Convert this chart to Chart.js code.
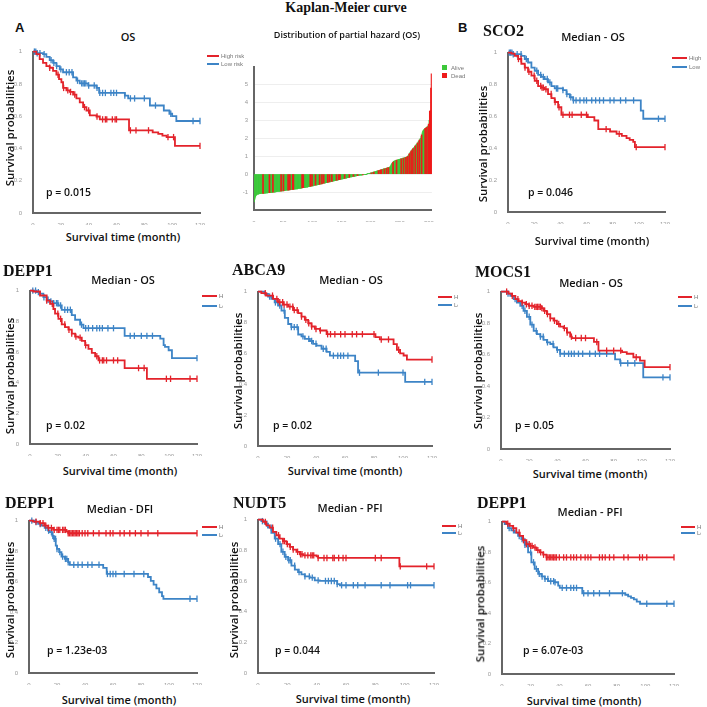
<!DOCTYPE html>
<html>
<head>
<meta charset="utf-8">
<script src="https://cdn.jsdelivr.net/npm/chart.js@4.4.0/dist/chart.umd.min.js"></script>
<style>
body{margin:0;background:#fff;}
#fig{position:relative;width:707px;height:707px;overflow:hidden;font-family:"Open Sans",sans-serif;color:#111;}
canvas{position:absolute;}
.t{position:absolute;white-space:nowrap;line-height:1;}
.gene{font-family:"Liberation Serif",serif;font-weight:bold;font-size:16px;}
.ttl{font-weight:600;font-size:11px;}
.ylab{font-weight:600;font-size:11.5px;}
.xlab{font-weight:600;font-size:11px;}
.pv{font-weight:600;font-size:10.5px;}
.lg{font-family:"Liberation Sans",sans-serif;font-size:6px;color:#777;overflow:hidden;}
</style>
</head>
<body>
<div id="fig"></div>
<script>
var RED = "#e3232b";
var BLUE = "#3d84c6";
var GREEN = "#3cc83a";
var DEADRED = "#ee1a1a";

// ---- distribution of partial hazard (OS), sorted, 305 patients ----
var hazard = [
-1.55,-1.40,-1.28,-1.20,-1.16,-1.13,-1.12,-1.11,-1.10,-1.09,
-1.09,-1.09,-1.08,-1.08,-1.08,-1.07,-1.07,-1.07,-1.06,-1.06,
-1.06,-1.05,-1.05,-1.05,-1.04,-1.04,-1.04,-1.03,-1.03,-1.03,
-1.02,-1.02,-1.01,-1.01,-1.00,-1.00,-0.99,-0.99,-0.98,-0.98,
-0.97,-0.97,-0.96,-0.96,-0.95,-0.95,-0.95,-0.94,-0.94,-0.93,
-0.93,-0.92,-0.92,-0.91,-0.91,-0.90,-0.90,-0.89,-0.89,-0.89,
-0.88,-0.88,-0.87,-0.87,-0.86,-0.86,-0.85,-0.85,-0.84,-0.84,
-0.84,-0.83,-0.83,-0.82,-0.82,-0.81,-0.80,-0.80,-0.79,-0.79,
-0.78,-0.78,-0.77,-0.76,-0.76,-0.75,-0.75,-0.74,-0.74,-0.73,
-0.72,-0.72,-0.71,-0.70,-0.70,-0.69,-0.68,-0.68,-0.67,-0.66,
-0.66,-0.65,-0.64,-0.63,-0.63,-0.62,-0.61,-0.60,-0.60,-0.59,
-0.58,-0.57,-0.57,-0.56,-0.55,-0.54,-0.54,-0.53,-0.52,-0.51,
-0.51,-0.50,-0.49,-0.48,-0.48,-0.47,-0.46,-0.45,-0.45,-0.44,
-0.43,-0.42,-0.41,-0.41,-0.40,-0.39,-0.38,-0.38,-0.37,-0.36,
-0.35,-0.35,-0.34,-0.33,-0.32,-0.31,-0.31,-0.30,-0.29,-0.28,
-0.28,-0.27,-0.26,-0.25,-0.25,-0.24,-0.23,-0.22,-0.22,-0.21,
-0.20,-0.19,-0.19,-0.18,-0.17,-0.16,-0.16,-0.15,-0.14,-0.14,
-0.13,-0.12,-0.12,-0.11,-0.10,-0.10,-0.09,-0.09,-0.08,-0.07,
-0.07,-0.06,-0.06,-0.05,-0.05,-0.04,-0.04,-0.03,-0.03,-0.02,
-0.02,-0.01,-0.01,0.00,0.01,0.02,0.03,0.04,0.05,0.06,
0.07,0.08,0.09,0.10,0.11,0.12,0.13,0.14,0.15,0.16,
0.17,0.18,0.19,0.20,0.21,0.22,0.23,0.24,0.25,0.26,
0.27,0.28,0.29,0.30,0.31,0.32,0.33,0.34,0.35,0.36,
0.37,0.38,0.40,0.42,0.48,0.55,0.60,0.64,0.68,0.71,
0.73,0.75,0.76,0.77,0.78,0.79,0.80,0.81,0.82,0.83,
0.84,0.85,0.86,0.87,0.88,0.89,0.90,0.91,0.92,0.93,
0.94,0.95,0.97,1.00,1.05,1.10,1.15,1.20,1.25,1.30,
1.34,1.38,1.42,1.46,1.50,1.54,1.58,1.62,1.66,1.70,
1.75,1.80,1.85,1.90,1.95,2.00,2.10,2.20,2.30,2.40,
2.45,2.50,2.52,2.55,2.58,2.60,2.62,2.65,2.70,2.80,
3.00,3.50,3.55,4.80,5.60
];
// positions (rank) of patients who died
var deadRank = [15,26,32,46,50,58,61,66,67,82,84,96,99,105,112,116,119,126,129,133,141,145,147,155,163,170,177,186,201,205,213,216,218,223,227,230,238,244,252,256,260,263,266,269,272,276,280,283,287,293,296,299,301,302,303,304];
var hazardTicksX = [0, 50, 100, 150, 200, 250, 300];

// ---- Kaplan-Meier curves: event times (month), survival after each event, censor times ----
// A: OS by risk score
var osHighT = [2.4,4.8,7.2,9.6,12,14.4,16.8,18.7,20.4,21.6,24,26.4,28.8,31.2,33.6,36,38.4,40.8,45.6,48,69,86,90,93,96,102];
var osHighS = [0.984,0.953,0.93,0.91,0.90,0.88,0.857,0.83,0.81,0.775,0.76,0.75,0.734,0.71,0.686,0.656,0.635,0.605,0.598,0.58,0.512,0.50,0.49,0.48,0.47,0.416];
var osHighC = [12,18,22,25,27,30,37,40,46,50,52,53,57,59,60,70,74,83,97,101,120];
var osLowT = [3,7.2,9.6,12,14.4,16.8,19.2,21.6,28.8,31.2,33.6,39.6,45.6,47.5,66,68.4,84,94,98,100,103];
var osLowS = [0.99,0.984,0.967,0.947,0.93,0.91,0.89,0.872,0.84,0.82,0.803,0.79,0.775,0.744,0.727,0.71,0.666,0.635,0.615,0.60,0.57];
var osLowC = [1,2,3,5,8,13,15,17,20,24,26,28,32,35,36,37,38,40,44,46,48,50,52,56,58,60,66,70,73,80,88,99,115,120];
// B: SCO2 OS
var sco2HighT = [2.6,5.1,7.7,10.2,12.8,15.3,17.9,20.4,23,25.5,28,30.6,33.2,35.7,38.3,40.8,61,66,69,78,83,87,90.6,93,95.7,97];
var sco2HighS = [0.994,0.98,0.96,0.93,0.906,0.88,0.855,0.823,0.79,0.78,0.77,0.74,0.715,0.69,0.657,0.61,0.595,0.574,0.52,0.505,0.49,0.477,0.464,0.452,0.44,0.407];
var sco2HighC = [8,10,13,16,20,22,25,26,27,29,33,36,39,42,47,49,56,60,75,85,98,120];
var sco2LowT = [4,10.2,12.8,15.3,17.9,20.4,23,25.5,28,30.6,33.2,35.7,42,44.7,47.2,49.8,101.5,103.4];
var sco2LowS = [0.99,0.98,0.96,0.938,0.906,0.886,0.86,0.848,0.834,0.813,0.79,0.775,0.765,0.74,0.72,0.70,0.636,0.585];
var sco2LowC = [1,2,3,4,7,10,14,22,25,27,30,32,37,38,42,45,48,50,52,55,58,60,64,67,70,73,78,81,86,90,96,115,120];
// DEPP1 OS
var depOsHighT = [2.4,7.2,12,14.4,16.8,18,20.4,22.8,25.2,27.6,30,32.4,34.8,37.2,39.6,42,44.4,46.8,49.2,68,84];
var depOsHighS = [0.994,0.968,0.935,0.914,0.88,0.85,0.816,0.78,0.762,0.745,0.72,0.70,0.693,0.672,0.644,0.62,0.594,0.572,0.545,0.495,0.425];
var depOsHighC = [12,16,20,22,25,28,30,33,36,40,48,50,52,53,55,60,63,78,82,98,101,115,120];
var depOsLowT = [4.8,7.2,9.6,12,14.4,16.8,20.4,22.8,30,32.4,36,38.4,68,93.6,96,97,99.6,102];
var depOsLowS = [0.99,0.98,0.957,0.94,0.93,0.918,0.903,0.875,0.84,0.81,0.778,0.755,0.705,0.687,0.644,0.633,0.611,0.56];
var depOsLowC = [2,4,6,10,13,15,17,19,20,22,25,27,29,37,40,42,45,48,50,52,56,60,72,75,80,84,88,120];
// ABCA9 OS
var abcHighT = [2.3,5.8,10.4,13.8,17.3,20.8,24.2,27.7,30,32.3,34.6,36.9,39.2,42.7,47.3,81,84,93.5,95.8,98,100.4,102.7];
var abcHighS = [0.99,0.974,0.953,0.931,0.916,0.903,0.88,0.86,0.838,0.817,0.795,0.774,0.758,0.748,0.724,0.705,0.69,0.66,0.623,0.60,0.586,0.56];
var abcHighC = [5,10,13,15,17,18,20,22,24,25,27,30,33,35,37,40,43,48,50,53,57,60,65,68,72,80,85,90,97,120];
var abcLowT = [4.6,6.9,9.2,11.5,13.8,16.2,18.5,20.8,23,27.7,30,32.3,35.8,38,40.4,43.8,47.3,49.6,67,69,101.5];
var abcLowS = [0.985,0.968,0.953,0.93,0.91,0.877,0.83,0.79,0.77,0.722,0.71,0.694,0.68,0.662,0.65,0.63,0.61,0.585,0.55,0.475,0.415];
var abcLowC = [8,12,15,18,23,25,27,31,35,37,40,45,47,52,55,57,59,62,70,83,100,115,120];
// MOCS1 OS
var mocHighT = [5.4,7.8,10.2,12.5,14.9,17.2,19.6,23.2,29,30.2,32.6,35,37.3,39.7,42,44.4,46.8,49.1,50.3,66,69.2,86,89.3,94,98.7,102];
var mocHighS = [0.987,0.973,0.952,0.94,0.93,0.92,0.91,0.903,0.895,0.878,0.857,0.83,0.815,0.794,0.777,0.768,0.74,0.714,0.705,0.68,0.625,0.615,0.605,0.583,0.562,0.52];
var mocHighC = [4,8,12,15,18,20,22,24,25,26,27,28,29,31,33,35,38,41,45,47,50,53,57,60,68,75,80,85,96,120];
var mocLowT = [4.3,6.6,9,11.3,13.7,16,18.4,20.8,23.2,25.5,27.9,30.2,32.6,35,37.3,39.7,42,81,84.6,101];
var mocLowS = [0.987,0.973,0.952,0.93,0.91,0.878,0.84,0.79,0.75,0.73,0.714,0.693,0.678,0.667,0.646,0.63,0.605,0.57,0.545,0.455];
var mocLowC = [5,10,15,17,20,22,25,28,30,33,37,40,42,45,48,50,52,55,58,63,67,70,75,85,90,95,115,120];
// DEPP1 DFI
var depDfiHighT = [2.9,7.6,11.2,13.6,17.2,26.8,28];
var depDfiHighS = [0.993,0.983,0.967,0.952,0.939,0.928,0.917];
var depDfiHighC = [5,8,10,12,14,16,18,20,21,22,24,25,26,28,29,30,31,32,33,34,35,36,38,40,42,46,50,55,58,60,65,68,72,76,80,85,92,120];
var depDfiLowT = [4,6.5,8.8,11.2,13.6,14.8,16.7,17.7,19.1,20,21.5,23.2,25.6,28,29.2,53,55.5,85,87,89,91,93,95,96];
var depDfiLowS = [0.99,0.978,0.967,0.952,0.934,0.924,0.90,0.88,0.836,0.814,0.793,0.764,0.749,0.727,0.71,0.69,0.65,0.63,0.605,0.58,0.555,0.53,0.505,0.487];
var depDfiLowC = [2,5,8,12,14,16,17,18,19,20,22,24,26,27,28,32,35,38,42,45,50,56,58,60,62,68,75,82,115,120];
// NUDT5 PFI
var nudHighT = [3.4,5.7,8,10.2,12.5,14.8,17,19.4,21.6,23.9,26.2,28.5,30.8,39.9,41,96.4];
var nudHighS = [0.985,0.963,0.948,0.92,0.898,0.876,0.86,0.84,0.822,0.804,0.79,0.774,0.767,0.76,0.75,0.695];
var nudHighC = [5,10,14,17,18,20,22,24,27,29,30,32,34,36,37,38,41,45,47,51,52,55,58,60,80,84,97,115,120];
var nudLowT = [2.3,4.6,6.8,9.1,11.4,13.7,15.9,18.2,20.5,22.8,25.1,27.3,29.6,31.9,35.3,38.7,42.1,54,55.8];
var nudLowS = [0.99,0.974,0.948,0.913,0.876,0.84,0.79,0.757,0.735,0.70,0.674,0.658,0.643,0.63,0.622,0.604,0.60,0.58,0.572];
var nudLowC = [3,6,9,12,15,17,19,21,22,25,28,32,35,37,41,46,48,50,52,54,57,60,65,68,73,84,90,102,104,120];
// DEPP1 PFI
var depPfiHighT = [3,5.4,7.7,10,12.4,14.7,17,19.3,21.7,24,26.3,28.7,31];
var depPfiHighS = [0.987,0.972,0.957,0.928,0.906,0.878,0.852,0.841,0.83,0.813,0.798,0.783,0.765];
var depPfiHighC = [4,8,12,15,17,19,20,21,23,25,27,29,31,32,33,34,35,36,37,38,40,43,45,48,50,52,55,58,60,62,68,70,72,75,78,85,88,96,98,101,120];
var depPfiLowT = [1.9,4.2,6.5,8.9,11.2,13.5,15.9,18.2,20.5,22.8,25.2,27.5,29.8,32.2,36.8,39.2,40.3,56,86,88,90,92,94,96.3];
var depPfiLowS = [0.983,0.957,0.943,0.928,0.906,0.885,0.848,0.798,0.733,0.69,0.657,0.64,0.624,0.609,0.602,0.58,0.565,0.53,0.52,0.51,0.50,0.49,0.475,0.461];
var depPfiLowC = [5,8,12,14,16,18,20,22,24,26,28,30,32,34,36,37,42,45,48,50,52,57,60,64,68,75,84,101,115,120];

var monthTicks = [0, 20, 40, 60, 80, 100, 120];
var probTicks = [0, 0.2, 0.4, 0.6, 0.8, 1];

var fig = document.getElementById("fig");

function addText(str, x, y, cls, center, extra) {
  var d = document.createElement("div");
  d.className = "t " + cls;
  d.textContent = str;
  d.style.left = x + "px";
  d.style.top = y + "px";
  d.style.transform = center ? "translate(-50%,-50%)" : "translate(0,-50%)";
  if (extra) for (var k in extra) d.style[k] = extra[k];
  fig.appendChild(d);
  return d;
}
function yLabel(x, y) {
  var d = addText("Survival probabilities", x, y, "ylab", true);
  d.style.transform = "translate(-50%,-50%) rotate(-90deg)";
}
function legendLine(x1, x2, y, color) {
  var d = document.createElement("div");
  d.style.position = "absolute";
  d.style.left = x1 + "px"; d.style.top = (y - 1) + "px";
  d.style.width = (x2 - x1) + "px"; d.style.height = "2px";
  d.style.background = color;
  fig.appendChild(d);
}
function legend(x1, x2, y1, y2, hi, lo, clipW) {
  legendLine(x1, x2, y1, RED);
  legendLine(x1, x2, y2, BLUE);
  var ex = clipW ? {width: clipW + "px"} : null;
  addText(hi, x2 + 2, y1, "lg", false, ex);
  addText(lo, x2 + 2, y2, "lg", false, ex);
}

function survAt(T, S, t) {
  var s = 1;
  for (var i = 0; i < T.length; i++) if (T[i] <= t) s = S[i];
  return s;
}
function kmLine(T, S, C) {
  var pts = [{x: 0, y: 1}];
  for (var i = 0; i < T.length; i++) pts.push({x: T[i], y: S[i]});
  var end = Math.max(C[C.length - 1], T[T.length - 1]);
  pts.push({x: end, y: S[S.length - 1]});
  return pts;
}
function kmCens(T, S, C) {
  return C.map(function (c) { return {x: c, y: survAt(T, S, c)}; });
}

function makeCanvas(left, top, w, h) {
  var c = document.createElement("canvas");
  c.width = w; c.height = h;
  c.style.left = left + "px"; c.style.top = top + "px";
  c.style.width = w + "px"; c.style.height = h + "px";
  fig.appendChild(c);
  return c;
}

var tickFont = {family: "Liberation Sans", size: 6};
function fmtTick(v) { return String(Math.round(v * 10) / 10); }

function kmChart(box, hi, lo) {
  var padT = 6, padR = 10, yW = 22, xH = 12;
  var w = box.r - box.l + yW + padR, h = box.b - box.t + padT + xH;
  var c = makeCanvas(box.l - yW, box.t - padT, w, h);
  function lineSet(T, S, C, col) {
    return {data: kmLine(T, S, C), borderColor: col, borderWidth: 1.8, stepped: "before",
      pointRadius: 0, fill: false, clip: false};
  }
  function censSet(T, S, C, col) {
    return {data: kmCens(T, S, C), showLine: false, pointStyle: "line", rotation: 90,
      pointRadius: 3.2, pointBorderWidth: 1.3, pointBorderColor: col, borderColor: col, clip: false};
  }
  new Chart(c, {
    type: "line",
    data: {datasets: [
      censSet(hi[0], hi[1], hi[2], RED),
      lineSet(hi[0], hi[1], hi[2], RED),
      censSet(lo[0], lo[1], lo[2], BLUE),
      lineSet(lo[0], lo[1], lo[2], BLUE)
    ]},
    options: {
      responsive: false, animation: false,
      layout: {padding: {top: padT, right: padR, left: 0, bottom: 0}},
      plugins: {legend: {display: false}, tooltip: {enabled: false}},
      scales: {
        x: {type: "linear", min: 0, max: 120,
          afterBuildTicks: function (s) { s.ticks = monthTicks.map(function (v) { return {value: v}; }); },
          ticks: {font: tickFont, color: "#999", padding: 1, maxRotation: 0, autoSkip: false, callback: fmtTick},
          grid: {display: false}, border: {color: "#666", width: 2},
          afterFit: function (s) { s.height = xH; }},
        y: {type: "linear", min: 0, max: 1,
          afterBuildTicks: function (s) { s.ticks = probTicks.map(function (v) { return {value: v}; }); },
          ticks: {font: tickFont, color: "#999", padding: 3, autoSkip: false, callback: fmtTick},
          grid: {display: false}, border: {color: "#666", width: 2},
          afterFit: function (s) { s.width = yW; }}
      }
    }
  });
}

function hazardChart(box) {
  var padT = 4, padR = 4, yW = 22, xH = 12;
  var w = box.r - box.l + yW + padR, h = box.b - box.t + padT + xH;
  var c = makeCanvas(box.l - yW, box.t - padT, w, h);
  var alive = [], dead = [];
  hazard.forEach(function (v, i) {
    (deadRank.indexOf(i) >= 0 ? dead : alive).push({x: i + 0.5, y: v});
  });
  new Chart(c, {
    type: "bar",
    data: {datasets: [
      {label: "Dead", data: dead, backgroundColor: DEADRED, borderWidth: 0, barThickness: 1, grouped: false, order: 0},
      {label: "Alive", data: alive, backgroundColor: GREEN, borderWidth: 0, barPercentage: 1, categoryPercentage: 1, grouped: false, order: 1}
    ]},
    options: {
      responsive: false, animation: false,
      layout: {padding: {top: padT, right: padR, left: 0, bottom: 0}},
      plugins: {legend: {display: false}, tooltip: {enabled: false}},
      scales: {
        x: {type: "linear", min: 0, max: 305, offset: false,
          afterBuildTicks: function (s) { s.ticks = hazardTicksX.map(function (v) { return {value: v}; }); },
          ticks: {font: tickFont, color: "#999", padding: 2, maxRotation: 0, autoSkip: false},
          grid: {display: false}, border: {color: "#666", width: 2},
          afterFit: function (s) { s.height = xH; }},
        y: {type: "linear", min: -2, max: 6,
          ticks: {stepSize: 1, font: tickFont, color: "#999", padding: 6,
            callback: function (v) { return (v === -2 || v === 6) ? "" : v; }},
          grid: {drawTicks: false, lineWidth: 1,
            color: function (ctx) { var v = ctx.tick && ctx.tick.value; return (v === -2 || v === 6) ? "rgba(0,0,0,0)" : "#eeeeee"; }},
          border: {color: "#666", width: 2},
          afterFit: function (s) { s.width = yW; }}
      }
    }
  });
}

// ---------- figure ----------
addText("Kaplan-Meier curve", 346, 8, "gene", true, {fontSize: "14px"});
addText("A", 15, 27, "", false, {fontFamily: "Liberation Sans", fontWeight: "bold", fontSize: "13px"});
addText("B", 458, 27, "", false, {fontFamily: "Liberation Sans", fontWeight: "bold", fontSize: "13px"});

// A - OS
kmChart({l: 33, t: 51, r: 200, b: 213}, [osHighT, osHighS, osHighC], [osLowT, osLowS, osLowC]);
addText("OS", 128, 36, "ttl", true);
yLabel(10, 128);
addText("Survival time (month)", 123, 236, "xlab", true);
addText("p = 0.015", 46, 192, "pv", false);
legend(207, 219, 56, 64, "High risk", "Low risk", 0);

// partial hazard
hazardChart({l: 254, t: 61, r: 432, b: 210});
addText("Distribution of partial hazard (OS)", 347, 34, "ttl", true, {fontSize: "9px"});
[["Alive", GREEN, 68], ["Dead", DEADRED, 76]].forEach(function (e) {
  var s = document.createElement("div");
  s.style.position = "absolute"; s.style.left = "442px"; s.style.top = (e[2] - 3) + "px";
  s.style.width = "5px"; s.style.height = "5px"; s.style.background = e[1];
  fig.appendChild(s);
  addText(e[0], 451, e[2], "lg", false);
});

// B - SCO2
kmChart({l: 508, t: 52, r: 665, b: 212}, [sco2HighT, sco2HighS, sco2HighC], [sco2LowT, sco2LowS, sco2LowC]);
addText("SCO2", 483, 31, "gene", false);
addText("Median - OS", 593, 36, "ttl", true);
yLabel(483, 144);
addText("Survival time (month)", 592, 240, "xlab", true);
addText("p = 0.046", 528, 192, "pv", false);
legend(672, 687, 58, 67, "High", "Low", 0);

// DEPP1 OS
kmChart({l: 30, t: 290, r: 197, b: 444}, [depOsHighT, depOsHighS, depOsHighC], [depOsLowT, depOsLowS, depOsLowC]);
addText("DEPP1", 3, 271, "gene", false);
addText("Median - OS", 123, 279, "ttl", true);
yLabel(10, 376);
addText("Survival time (month)", 120, 470, "xlab", true);
addText("p = 0.02", 46, 425, "pv", false);
legend(202, 217, 296, 306, "High", "Low", 4);

// ABCA9 OS
kmChart({l: 258, t: 291, r: 432, b: 446}, [abcHighT, abcHighS, abcHighC], [abcLowT, abcLowS, abcLowC]);
addText("ABCA9", 232, 270, "gene", false);
addText("Median - OS", 351, 279, "ttl", true);
yLabel(238, 371);
addText("Survival time (month)", 345, 470, "xlab", true);
addText("p = 0.02", 273, 425, "pv", false);
legend(438, 452, 297, 305, "High", "Low", 4);

// MOCS1 OS
kmChart({l: 501, t: 291, r: 670, b: 449}, [mocHighT, mocHighS, mocHighC], [mocLowT, mocLowS, mocLowC]);
addText("MOCS1", 475, 272, "gene", false);
addText("Median - OS", 591, 282, "ttl", true);
yLabel(478, 371);
addText("Survival time (month)", 590, 473, "xlab", true);
addText("p = 0.05", 515, 425, "pv", false);
legend(678, 692, 297, 306, "High", "Low", 4);

// DEPP1 DFI
kmChart({l: 29, t: 520, r: 197, b: 673}, [depDfiHighT, depDfiHighS, depDfiHighC], [depDfiLowT, depDfiLowS, depDfiLowC]);
addText("DEPP1", 5, 503, "gene", false);
addText("Median - DFI", 120, 508, "ttl", true);
yLabel(10, 600);
addText("Survival time (month)", 119, 699, "xlab", true);
addText("p = 1.23e-03", 47, 650, "pv", false);
legend(202, 217, 527, 535, "High", "Low", 4);

// NUDT5 PFI
kmChart({l: 258, t: 519, r: 434, b: 673}, [nudHighT, nudHighS, nudHighC], [nudLowT, nudLowS, nudLowC]);
addText("NUDT5", 233, 503, "gene", false);
addText("Median - PFI", 350, 507, "ttl", true);
yLabel(234, 600);
addText("Survival time (month)", 353, 698, "xlab", true);
addText("p = 0.044", 275, 650, "pv", false);
legend(442, 456, 526, 533, "High", "Low", 4);

// DEPP1 PFI
kmChart({l: 502, t: 521, r: 674, b: 674}, [depPfiHighT, depPfiHighS, depPfiHighC], [depPfiLowT, depPfiLowS, depPfiLowC]);
addText("DEPP1", 477, 503, "gene", false);
addText("Median - PFI", 590, 511, "ttl", true);
yLabel(480, 604);
addText("Survival time (month)", 584, 700, "xlab", true);
addText("p = 6.07e-03", 523, 650, "pv", false);
legend(681, 695, 527, 533, "High", "Low", 4);
</script>
</body>
</html>
